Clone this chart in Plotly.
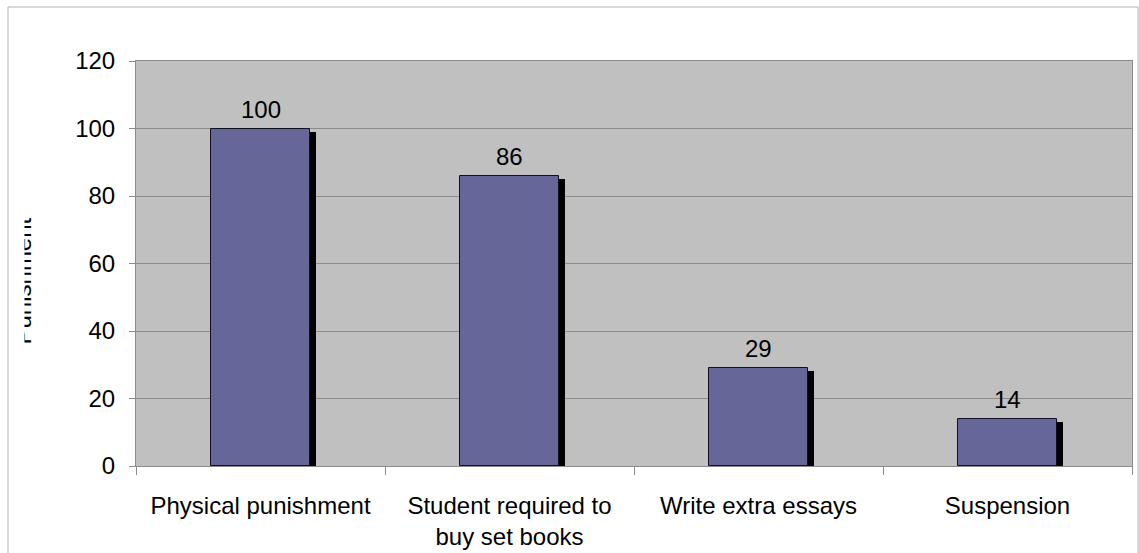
import plotly.graph_objects as go

# Chart data
categories = ["Physical punishment", "Student required to<br>buy set books",
              "Write extra essays", "Suspension"]
values = [100, 86, 29, 14]
y_title = "Punishment"
y_ticks = [0, 20, 40, 60, 80, 100, 120]

# Layout geometry (pixels)
W, H = 1139, 553
ML, MR, MT, MB = 136, 7, 61, 87
plot_w = W - ML - MR
plot_h = H - MT - MB
y_max = 120

bar_w = 0.4
shadow_dx_px = 6
shadow_dy_px = 3
shadow_dx = shadow_dx_px * len(categories) / plot_w
shadow_dy = shadow_dy_px * y_max / plot_h

font_family = "Liberation Sans, Arial, sans-serif"

fig = go.Figure()

# Drop shadow behind each bar
fig.add_trace(go.Bar(
    x=categories,
    y=[v - shadow_dy for v in values],
    width=bar_w,
    offset=-bar_w / 2 + shadow_dx,
    marker=dict(color="#000000", line=dict(width=0)),
    hoverinfo="skip",
    showlegend=False,
))

# Main bars
fig.add_trace(go.Bar(
    x=categories,
    y=values,
    width=bar_w,
    offset=-bar_w / 2,
    marker=dict(color="#666699", line=dict(color="#101020", width=1)),
    showlegend=False,
))

# Value labels above bars
for c, v in zip(categories, values):
    fig.add_annotation(
        x=c, y=v, xref="x", yref="y", text=str(v), showarrow=False,
        yanchor="bottom", yshift=4,
        font=dict(family=font_family, size=24, color="#000000"),
    )

# Y-axis title, clipped along its box
fig.add_annotation(
    text=y_title, textangle=-90, showarrow=False,
    xref="paper", yref="paper",
    x=(22 - ML) / plot_w, xanchor="left",
    y=(H - MB - 281) / plot_h, yanchor="middle",
    height=11, valign="bottom",
    font=dict(family=font_family, size=24, color="#000000"),
)

# Outer frame
fig.add_shape(
    type="rect", xref="paper", yref="paper",
    x0=(8 - ML) / plot_w, x1=(1138 - ML) / plot_w,
    y0=(H - MB - 560) / plot_h, y1=(H - MB - 7) / plot_h,
    line=dict(color="#b3b3b3", width=1), fillcolor="rgba(0,0,0,0)",
    layer="below",
)

fig.update_layout(
    width=W, height=H,
    margin=dict(l=ML, r=MR, t=MT, b=MB, pad=0),
    paper_bgcolor="#ffffff",
    plot_bgcolor="#c0c0c0",
    barmode="overlay",
    bargap=0,
    font=dict(family=font_family, size=24, color="#000000"),
    xaxis=dict(
        type="category",
        tickson="boundaries",
        ticks="outside", ticklen=8, tickcolor="#8c8c8c", tickwidth=1,
        showline=True, linecolor="#8c8c8c", linewidth=1, mirror=True,
        showgrid=False,
        tickfont=dict(size=24),
        ticklabelstandoff=18,
        automargin=False,
    ),
    yaxis=dict(
        range=[0, y_max],
        tickvals=y_ticks,
        ticks="outside", ticklen=6, tickcolor="#8c8c8c", tickwidth=1,
        showline=True, linecolor="#8c8c8c", linewidth=1, mirror=True,
        showgrid=True, gridcolor="#8c8c8c", gridwidth=1,
        zeroline=False,
        tickfont=dict(size=24),
        ticklabelstandoff=9,
        automargin=False,
    ),
)

fig.write_html("out.html")
